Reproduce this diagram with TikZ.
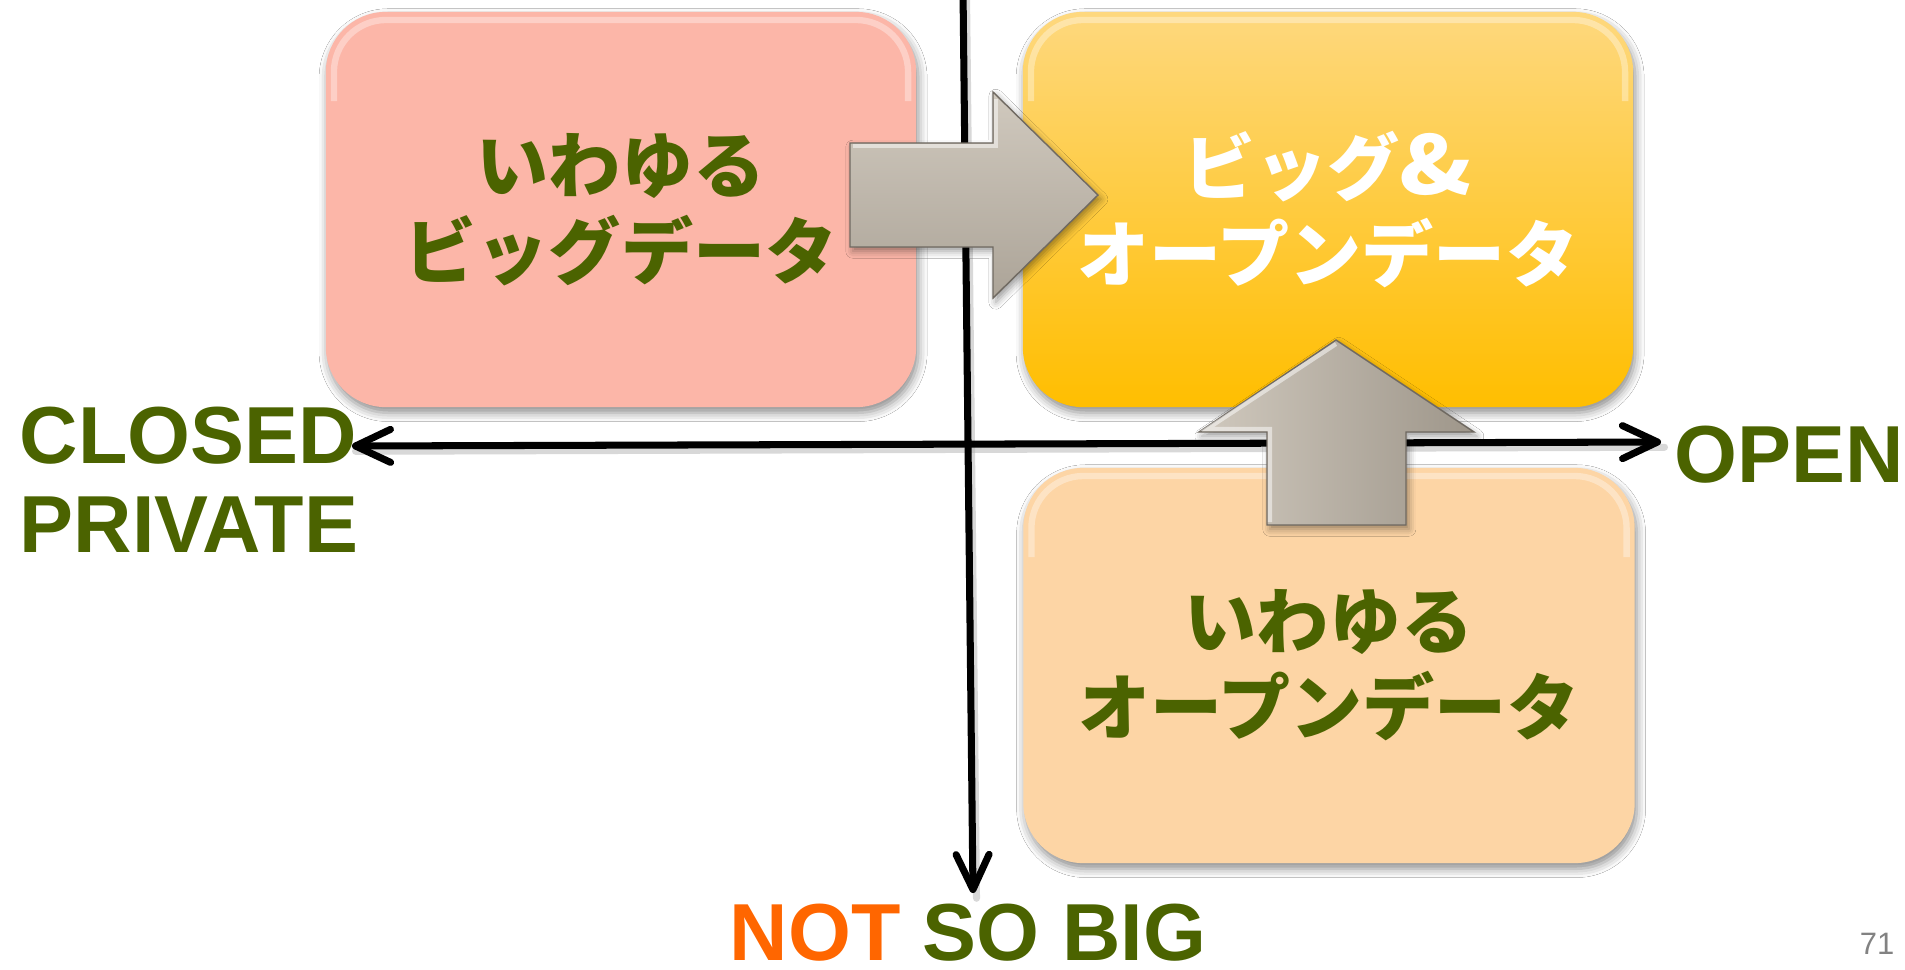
\documentclass[tikz,border=0pt]{standalone}
\usepackage{fontspec}
\setmainfont{Liberation Sans}
\newfontfamily\jp{Noto Sans CJK JP}
\usetikzlibrary{arrows.meta,shadows.blur}
\definecolor{txtgreen}{RGB}{75,99,0}
\definecolor{notorange}{RGB}{255,102,0}
\definecolor{pinkfill}{RGB}{252,182,168}
\definecolor{peachfill}{RGB}{253,213,165}
\definecolor{goldtop}{RGB}{254,216,126}
\definecolor{goldbot}{RGB}{255,190,0}
\definecolor{arrowlight}{RGB}{208,201,190}
\definecolor{arrowdark}{RGB}{158,150,138}
\definecolor{arrowmid}{RGB}{172,164,152}
\definecolor{pagenum}{RGB}{130,130,130}
\begin{document}
\begin{tikzpicture}[x=0.01cm,y=-0.01cm,
  box/.style={rounded corners=0.6cm, minimum height=3.95cm, inner sep=0pt, align=center,
    font=\jp\bfseries\fontsize{20.5pt}{24.5pt}\selectfont,
    blur shadow={shadow xshift=0.6pt, shadow yshift=-1.6pt, shadow blur radius=2.5pt, shadow opacity=45}},
  rimlight/.style={white, opacity=0.35, line width=1.8pt, rounded corners=0.52cm},
  axisline/.style={line width=2pt, black, line cap=round},
  barb/.tip={Straight Barb[length=3.5mm,width=3.3mm,line cap=round,line join=round]},
  lbl/.style={inner sep=0pt, text=txtgreen, font=\bfseries\fontsize{23pt}{25.3pt}\selectfont},
  blockarrow/.style={draw=arrowdark!70!black, line width=0.4pt, line join=miter,
    blur shadow={shadow xshift=0.8pt, shadow yshift=-1.2pt, shadow blur radius=2pt, shadow opacity=40}}
]
\useasboundingbox (0,0) rectangle (1905,969);
\fill[white] (0,0) rectangle (1905,969);

% boxes
\node[box, fill=pinkfill, minimum width=5.9cm, text=txtgreen] (bigdata) at (621,209.5) {いわゆる\\ビッグデータ};
\node[box, top color=goldtop, bottom color=goldbot, minimum width=6.1cm, text=white] (bigopen) at (1328,209.5) {ビッグ\scalebox{1.3}[1.12]{\&}\\オープンデータ};
\node[box, fill=peachfill, minimum width=6.11cm, text=txtgreen] (opendata) at (1329,665.5) {いわゆる\\オープンデータ};
\foreach \n in {bigdata,bigopen,opendata}{
  \draw[rimlight] ([shift={(2.5pt,-0.9cm)}]\n.north west) |- ([yshift=-2.5pt]\n.north) -| ([shift={(-2.5pt,-0.9cm)}]\n.north east);
}

% labels
\node[lbl, anchor=base west] (closed) at (19,463) {CLOSED};
\node[lbl, anchor=base west] (private) at (19,552) {PRIVATE};
\node[lbl, anchor=base west] (open) at (1674,482) {OPEN};
\node[lbl, anchor=base west] (notsobig) at (729,960) {\textcolor{notorange}{NOT} SO BIG};
\node[anchor=base east, inner sep=0pt, text=pagenum, font=\fontsize{8.8pt}{10pt}\selectfont] (pnum) at (1895,954) {71};

% axes
\coordinate (vtop) at (963,-10);
\coordinate (vbot) at (973,893);
\coordinate (hleft) at (352,446);
\coordinate (hright) at (1661,442);
\draw[axisline, black!30, opacity=0.5] ([xshift=1pt,yshift=-1.5pt]vtop) -- ([xshift=1pt,yshift=-1.5pt]vbot);
\draw[axisline, black!30, opacity=0.5] ([xshift=1pt,yshift=-1.5pt]hleft) -- ([xshift=1pt,yshift=-1.5pt]hright);
\draw[axisline, -barb] (vtop) -- (vbot);
\draw[axisline, barb-barb] (hleft) -- (hright);

% block arrows
\path[blockarrow, top color=arrowlight, bottom color=arrowmid]
  (850,143) -- (993,143) -- (993,92) -- (1098,195) -- (993,298) -- (993,247) -- (850,247) -- cycle;
\draw[white, opacity=0.5, line width=1.2pt] (853,146) -- (996,146) -- (996,99);
\path[blockarrow, left color=arrowlight, right color=arrowdark]
  (1267,525) -- (1267,432) -- (1199,432) -- (1336,340) -- (1474,432) -- (1406,432) -- (1406,525) -- cycle;
\draw[white, opacity=0.5, line width=1.2pt] (1270,522) -- (1270,429) -- (1207,429) -- (1336,344);
\end{tikzpicture}
\end{document}
